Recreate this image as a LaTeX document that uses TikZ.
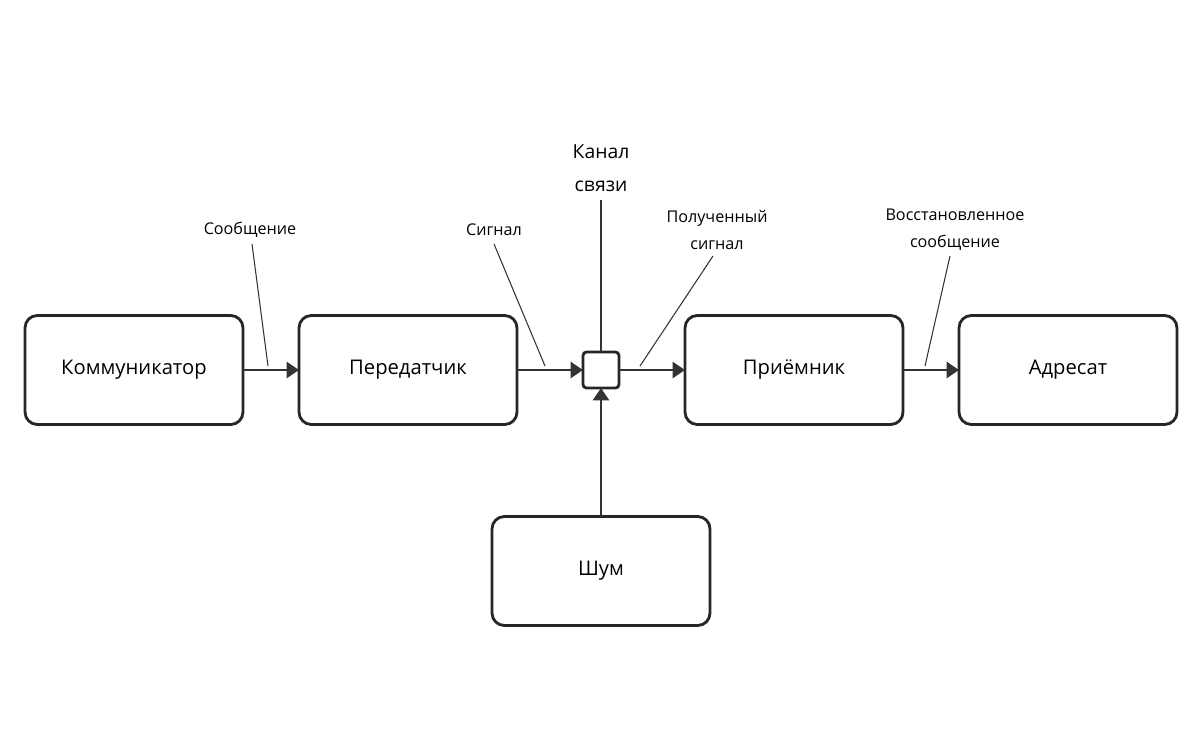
\documentclass[tikz,border=0pt]{standalone}
\usepackage{fontspec}
\setmainfont{Open Sans}
\usetikzlibrary{arrows.meta}
\begin{document}
\begin{tikzpicture}[x=0.02cm,y=-0.02cm,inner sep=0pt,outer sep=0pt,
sysblock/.style={draw=black!85,rectangle,rounded corners=7pt,line width=1.6pt,minimum width=4.36cm,minimum height=2.18cm,font=\fontsize{11.5}{13}\selectfont},
flow/.style={line width=1.6pt,draw=black!80,-{Triangle[length=7pt,width=9pt]}},
tag/.style={font=\fontsize{9.2}{15.5}\selectfont,align=center},
pin/.style={line width=0.6pt,draw=black!80}]
\useasboundingbox (0,0) rectangle (1200,739);

\draw (134,370) node[sysblock] (comm) {Коммуникатор};
\draw (408,370) node[sysblock] (tx) {Передатчик};
\draw (601,370) node[draw=black!85,line width=1.6pt,rounded corners=2pt,minimum size=0.72cm] (chan) {};
\draw (794,370) node[sysblock] (rx) {Приёмник};
\draw (1068,370) node[sysblock] (dest) {Адресат};
\draw (601,571) node[sysblock] (noise) {Шум};

\draw[flow] (comm.east) -- (tx.west);
\draw[flow] (tx.east) -- (chan.west);
\draw[flow] (chan.east) -- (rx.west);
\draw[flow] (rx.east) -- (dest.west);
\draw[flow] (noise.north) -- (chan.south);

% labels with leader lines
\node[tag] (msg) at (250,230) {Сообщение};
\coordinate (msgend) at (268,366);
\draw[pin] (252,244) -- (msgend);
\node[tag] (sig) at (494,230) {Сигнал};
\coordinate (sigend) at (545,366);
\draw[pin] (494,244) -- (sigend);
\node[tag,font=\fontsize{11}{18.5}\selectfont] (chanlbl) at (601,168) {Канал\\связи};
\draw[pin] (601,200) -- (chan.north);
\node[tag] (rsig) at (717,230) {Полученный\\сигнал};
\coordinate (rsigend) at (640,366);
\draw[pin] (713,256) -- (rsigend);
\node[tag] (rmsg) at (955,230) {Восстановленное\\сообщение};
\coordinate (rmsgend) at (925,366);
\draw[pin] (950,256) -- (rmsgend);

\end{tikzpicture}
\end{document}
